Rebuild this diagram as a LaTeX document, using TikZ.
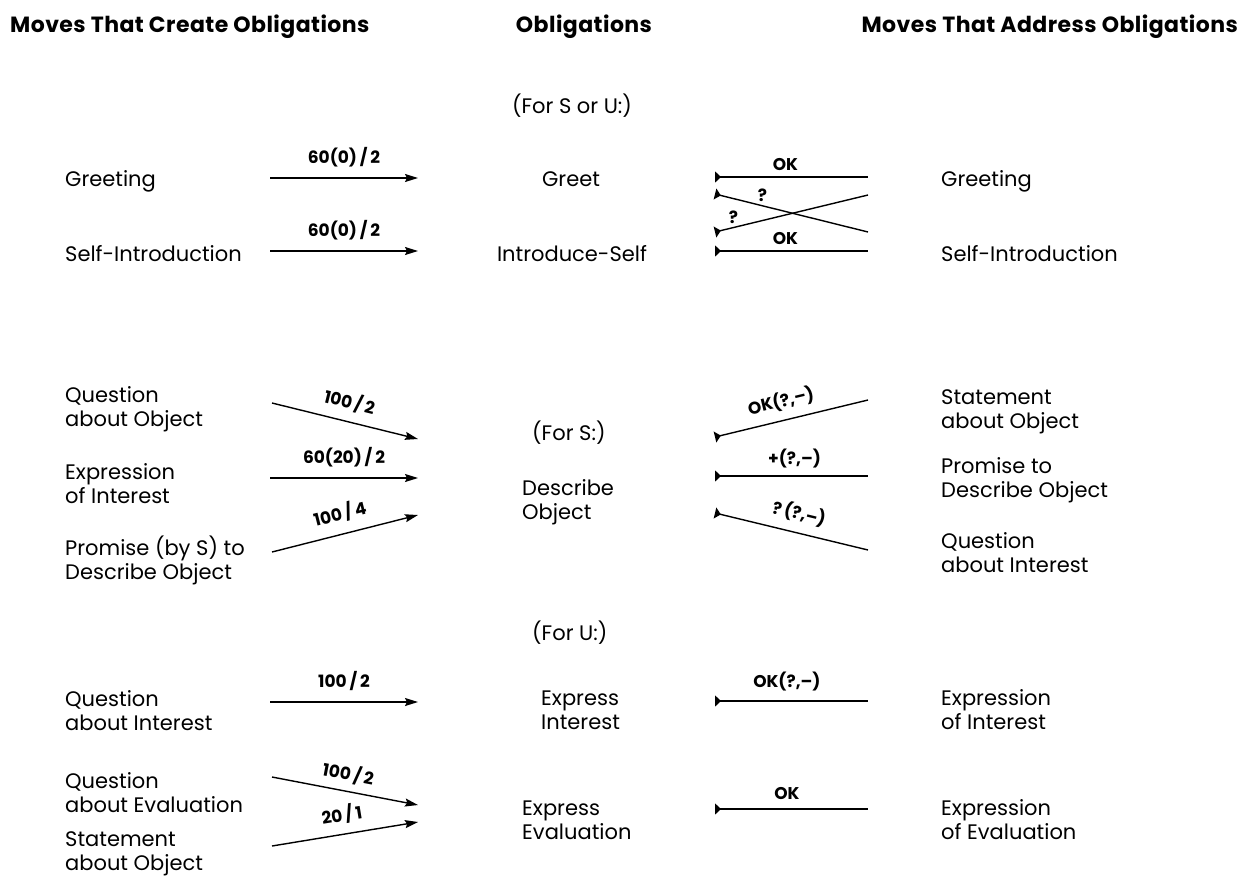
\documentclass[tikz,border=0pt]{standalone}
\usepackage{fontspec}
\setmainfont{Poppins}
\usetikzlibrary{arrows.meta}
\begin{document}
\begin{tikzpicture}[x=1pt,y=-1pt,
  txt/.style={inner sep=0pt, anchor=west, align=left, font=\fontsize{21}{24}\selectfont},
  mid/.style={inner sep=0pt, align=left, font=\fontsize{21}{24}\selectfont},
  head/.style={inner sep=0pt, font=\fontsize{22}{26}\selectfont\bfseries\addfontfeatures{LetterSpace=2}},
  lbl/.style={inner sep=1pt, font=\fontsize{17}{19}\selectfont\bfseries},
  fwd/.style={line width=1.4pt, -{Stealth[length=13pt,width=8pt,inset=2pt]}},
  bwd/.style={line width=1.4pt, {Triangle[reversed,length=6pt,width=11pt]}-},
]
\useasboundingbox (0,0) rectangle (1244,881);

% column headings
\node[head, anchor=west] (hl) at (10,27) {Moves That Create Obligations};
\node[head] (hm) at (584,27) {Obligations};
\node[head, anchor=east] (hr) at (1238,27) {Moves That Address Obligations};

% ---- greetings and introductions
\node[mid] (forSU) at (572,106) {(For S or U:)};
\node[txt] (gL) at (65,181) {Greeting};
\node[txt] (siL) at (65,254) {Self-Introduction};
\node[mid] (greet) at (571,179) {Greet};
\node[mid] (intro) at (572,254) {Introduce-Self};
\node[txt] (gR) at (941,181) {Greeting};
\node[txt] (siR) at (941,254) {Self-Introduction};

\coordinate (a1s) at (270,178); \coordinate (a1e) at (418,178);
\coordinate (a2s) at (270,251); \coordinate (a2e) at (418,251);
\draw[fwd] (a1s) -- node[lbl, above=9pt] {60(0)\,/\,2} (a1e);
\draw[fwd] (a2s) -- node[lbl, above=9pt] {60(0)\,/\,2} (a2e);

\coordinate (r1s) at (715,177); \coordinate (r1e) at (868,177);
\coordinate (r2s) at (715,194); \coordinate (r2e) at (868,232);
\coordinate (r3s) at (715,232); \coordinate (r3e) at (868,195);
\coordinate (r4s) at (715,251); \coordinate (r4e) at (868,251);
\draw[bwd] (r1s) -- node[lbl, above=5pt, pos=0.46] {OK} (r1e);
\draw[bwd] (r2s) -- node[lbl, above=2pt, pos=0.31] {?} (r2e);
\draw[bwd] (r3s) -- node[lbl, above=2pt, pos=0.12] {?} (r3e);
\draw[bwd] (r4s) -- node[lbl, above=5pt, pos=0.46] {OK} (r4e);

% ---- describing objects
\node[mid, anchor=west] (forS) at (532,433) {(For S:)};
\node[txt] (qoL) at (65,409) {Question\\about Object};
\node[txt] (eiL) at (65,484) {Expression\\of Interest};
\node[txt] (psL) at (65,560) {Promise (by S) to\\Describe Object};
\node[mid, anchor=west] (desc) at (522,502) {Describe\\Object};
\node[txt] (soR) at (941,412) {Statement\\about Object};
\node[txt] (pdR) at (941,480) {Promise to\\Describe Object};
\node[txt] (qiR) at (941,553) {Question\\about Interest};

\coordinate (a3s) at (272,403); \coordinate (a3e) at (418,439);
\coordinate (a4s) at (270,478); \coordinate (a4e) at (418,478);
\coordinate (a5s) at (272,552); \coordinate (a5e) at (418,515);
\draw[fwd] (a3s) -- node[lbl, sloped, above=8pt] {100\,/\,2} (a3e);
\draw[fwd] (a4s) -- node[lbl, above=9pt] {60(20)\,/\,2} (a4e);
\draw[fwd] (a5s) -- node[lbl, sloped, above=9pt] {100\,/\,4} (a5e);

\coordinate (r5s) at (715,437); \coordinate (r5e) at (868,400);
\coordinate (r6s) at (715,476); \coordinate (r6e) at (868,476);
\coordinate (r7s) at (715,513); \coordinate (r7e) at (868,550);
\draw[bwd] (r5s) -- node[lbl, sloped, above=8pt, pos=0.46] {OK(?,--)} (r5e);
\draw[bwd] (r6s) -- node[lbl, above=6pt, pos=0.52] {+(?,--)} (r6e);
\draw[bwd] (r7s) -- node[lbl, sloped, above=8pt, pos=0.52] {?\,(?,--)} (r7e);

% ---- interest and evaluation
\node[mid, anchor=west] (forU) at (532,633) {(For U:)};
\node[txt] (qiL) at (65,711) {Question\\about Interest};
\node[txt] (qeL) at (65,793) {Question\\about Evaluation};
\node[txt] (soL) at (65,854) {Statement\\about Object};
\node[mid, anchor=west] (expI) at (541,710) {Express\\Interest};
\node[mid, anchor=west] (expE) at (522,820) {Express\\Evaluation};
\node[txt] (eiR) at (941,710) {Expression\\of Interest};
\node[txt] (eeR) at (941,820) {Expression\\of Evaluation};

\coordinate (a6s) at (270,702); \coordinate (a6e) at (418,702);
\coordinate (a7s) at (272,777); \coordinate (a7e) at (418,805);
\coordinate (a8s) at (272,846); \coordinate (a8e) at (418,822);
\draw[fwd] (a6s) -- node[lbl, above=10pt] {100\,/\,2} (a6e);
\draw[fwd] (a7s) -- node[lbl, sloped, above=6pt] {100\,/\,2} (a7e);
\draw[fwd] (a8s) -- node[lbl, sloped, above=8pt] {20\,/\,1} (a8e);

\coordinate (r8s) at (715,701); \coordinate (r8e) at (868,701);
\coordinate (r9s) at (715,809); \coordinate (r9e) at (868,809);
\draw[bwd] (r8s) -- node[lbl, above=8pt, pos=0.47] {OK(?,--)} (r8e);
\draw[bwd] (r9s) -- node[lbl, above=8pt, pos=0.47] {OK} (r9e);
\end{tikzpicture}
\end{document}
